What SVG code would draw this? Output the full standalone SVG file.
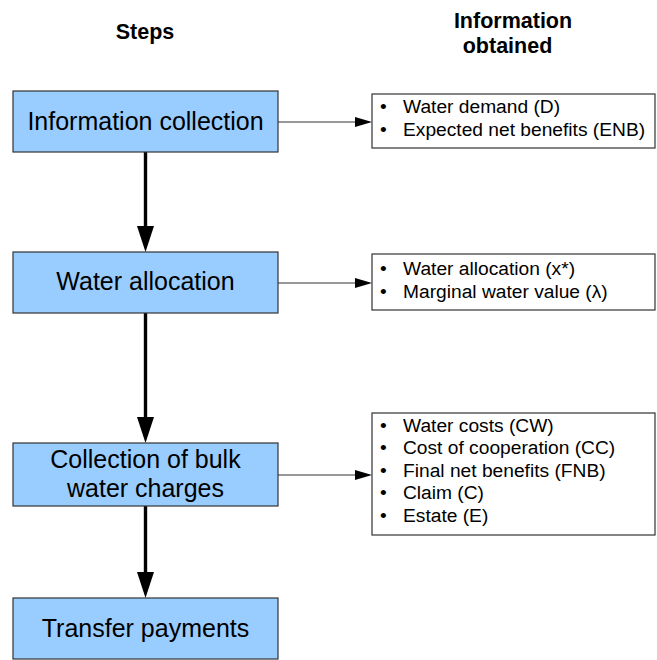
<svg xmlns="http://www.w3.org/2000/svg" width="657" height="660" viewBox="0 0 657 660">
  <style>
    .step rect { fill: #99ccff; stroke: #333333; stroke-width: 1.2; }
    .step text { font-family: "Liberation Sans", Arial, sans-serif; font-size: 25px; fill: #000; text-anchor: middle; }
    .info rect { fill: #ffffff; stroke: #333333; stroke-width: 1.2; }
    .info text { font-family: "Liberation Sans", Arial, sans-serif; font-size: 19.2px; fill: #000; }
    .head { font-family: "Liberation Sans", Arial, sans-serif; font-size: 21.5px; font-weight: bold; fill: #000; text-anchor: middle; }
    .flow { stroke: #000; stroke-width: 3.4; fill: none; }
    .out { stroke: #333333; stroke-width: 1.2; fill: none; }
    .tip { fill: #000; }
  </style>

  <!-- Column headings -->
  <g id="headings">
    <text class="head" x="145" y="38.5">Steps</text>
    <text class="head" x="513" y="28">Information</text>
    <text class="head" x="507.5" y="52.5">obtained</text>
  </g>

  <!-- Connectors: thick flow arrows between steps, thin arrows to the outputs -->
  <g id="connectors">
    <line class="flow" x1="145.5" y1="152" x2="145.5" y2="236"/>
    <path class="tip" d="M137,226 L154,226 L145.5,252 Z"/>
    <line class="flow" x1="145.5" y1="313" x2="145.5" y2="428"/>
    <path class="tip" d="M137,417 L154,417 L145.5,443 Z"/>
    <line class="flow" x1="145.5" y1="506" x2="145.5" y2="583"/>
    <path class="tip" d="M137,572 L154,572 L145.5,598 Z"/>

    <line class="out" x1="278" y1="122" x2="357" y2="122"/>
    <path class="tip" d="M355,117 L372,122 L355,127 Z"/>
    <line class="out" x1="278" y1="283" x2="357" y2="283"/>
    <path class="tip" d="M355,278 L372,283 L355,288 Z"/>
    <line class="out" x1="278" y1="475" x2="357" y2="475"/>
    <path class="tip" d="M355,470 L372,475 L355,480 Z"/>
  </g>

  <!-- Steps -->
  <g id="step-information-collection" class="step">
    <rect x="13" y="91" width="265" height="61"/>
    <text x="145.5" y="130">Information collection</text>
  </g>
  <g id="step-water-allocation" class="step">
    <rect x="13" y="252" width="265" height="61"/>
    <text x="145.5" y="290">Water allocation</text>
  </g>
  <g id="step-bulk-water-charges" class="step">
    <rect x="13" y="443" width="265" height="63"/>
    <text x="145.5" y="468">Collection of bulk</text>
    <text x="145.5" y="497">water charges</text>
  </g>
  <g id="step-transfer-payments" class="step">
    <rect x="13" y="598" width="265" height="61"/>
    <text x="145.5" y="637">Transfer payments</text>
  </g>

  <!-- Information obtained -->
  <g id="info-collection" class="info">
    <rect x="372" y="94" width="283" height="54"/>
    <text x="380" y="113">•</text><text x="403" y="113">Water demand (D)</text>
    <text x="380" y="136">•</text><text x="403" y="136">Expected net benefits (ENB)</text>
  </g>
  <g id="info-allocation" class="info">
    <rect x="372" y="254" width="283" height="56"/>
    <text x="380" y="275">•</text><text x="403" y="275">Water allocation (x*)</text>
    <text x="380" y="298">•</text><text x="403" y="298">Marginal water value (λ)</text>
  </g>
  <g id="info-charges" class="info">
    <rect x="372" y="413" width="283" height="122"/>
    <text x="380" y="432">•</text><text x="403" y="432">Water costs (CW)</text>
    <text x="380" y="454">•</text><text x="403" y="454">Cost of cooperation (CC)</text>
    <text x="380" y="477">•</text><text x="403" y="477">Final net benefits (FNB)</text>
    <text x="380" y="499">•</text><text x="403" y="499">Claim (C)</text>
    <text x="380" y="522">•</text><text x="403" y="522">Estate (E)</text>
  </g>
</svg>
